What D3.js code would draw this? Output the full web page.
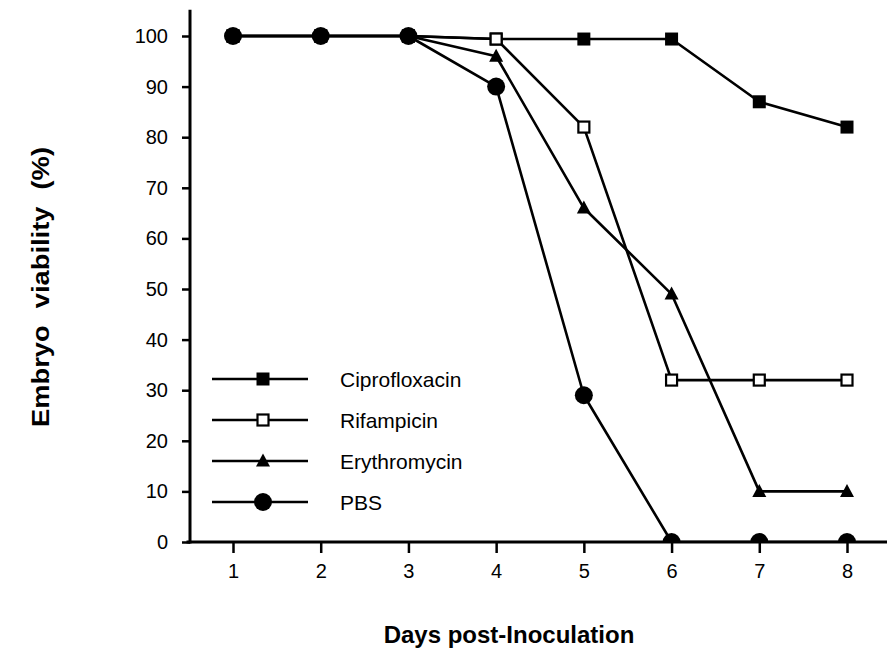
<!DOCTYPE html>
<html>
<head>
<meta charset="utf-8">
<script src="https://cdn.jsdelivr.net/npm/d3@7"></script>
<style>
  html, body { margin: 0; padding: 0; background: #fff; }
  svg { display: block; font-family: "Liberation Sans", Arial, Helvetica, sans-serif; }
</style>
</head>
<body>
<svg id="chart" width="887" height="656"></svg>
<script>
const days = [1, 2, 3, 4, 5, 6, 7, 8];
const ciprofloxacin = [100, 100, 100, 99.4, 99.4, 99.4, 87, 82];
const rifampicin = [100, 100, 100, 99.4, 82, 32, 32, 32];
const erythromycin = [100, 100, 100, 96, 66, 49, 10, 10];
const pbs = [100, 100, 100, 90, 29, 0, 0, 0];
const seriesNames = ["Ciprofloxacin", "Rifampicin", "Erythromycin", "PBS"];
const yTicks = [0, 10, 20, 30, 40, 50, 60, 70, 80, 90, 100];
const xTicks = [1, 2, 3, 4, 5, 6, 7, 8];

const svg = d3.select("#chart");
const x = d3.scaleLinear().domain([1, 8]).range([233, 847]);
const y = d3.scaleLinear().domain([0, 100]).range([542, 36]);

const series = [
  { name: seriesNames[0], values: ciprofloxacin, marker: "fsquare" },
  { name: seriesNames[2], values: erythromycin, marker: "triangle" },
  { name: seriesNames[1], values: rifampicin, marker: "osquare" },
  { name: seriesNames[3], values: pbs, marker: "circle" }
];

svg.append("defs").append("clipPath").attr("id", "plotclip")
  .append("rect").attr("x", x(0.5)).attr("y", 0)
  .attr("width", x(8.5) - x(0.5)).attr("height", y(0) + 1);

function drawMarker(g, type, cx, cy) {
  if (type === "fsquare") {
    g.append("rect").attr("x", cx - 6.5).attr("y", cy - 6.5).attr("width", 13).attr("height", 13).attr("fill", "#000");
  } else if (type === "osquare") {
    g.append("rect").attr("x", cx - 5.5).attr("y", cy - 5.5).attr("width", 11).attr("height", 11)
      .attr("fill", "#fff").attr("stroke", "#000").attr("stroke-width", 2.2);
  } else if (type === "triangle") {
    g.append("path").attr("d", `M${cx},${cy - 7.5}L${cx + 7},${cy + 5.5}L${cx - 7},${cy + 5.5}Z`).attr("fill", "#000");
  } else {
    g.append("circle").attr("cx", cx).attr("cy", cy).attr("r", 9).attr("fill", "#000");
  }
}

const plot = svg.append("g").attr("clip-path", "url(#plotclip)");
const line = d3.line().x((d, i) => x(days[i])).y(d => y(d));

series.forEach(s => {
  plot.append("path").datum(s.values).attr("d", line)
    .attr("fill", "none").attr("stroke", "#000").attr("stroke-width", 2.6).attr("stroke-linejoin", "round");
});
series.forEach(s => {
  const g = plot.append("g");
  s.values.forEach((v, i) => drawMarker(g, s.marker, x(days[i]), y(v)));
});

// Axes
const yAxis = d3.axisLeft(y).tickValues(yTicks).tickFormat(d3.format("d")).tickSize(8).tickPadding(14);
const gy = svg.append("g").attr("transform", `translate(190,0)`).call(yAxis);
gy.select(".domain").remove();
gy.selectAll(".tick line").attr("stroke", "#000").attr("stroke-width", 2.5);
gy.selectAll(".tick text").attr("font-size", 20).attr("fill", "#000").attr("font-family", '"Liberation Sans", Arial, sans-serif');

const xAxis = d3.axisBottom(x).tickValues(xTicks).tickFormat(d3.format("d")).tickSize(11).tickPadding(11);
const gx = svg.append("g").attr("transform", `translate(0,${y(0)})`).call(xAxis);
gx.select(".domain").remove();
gx.selectAll(".tick line").attr("stroke", "#000").attr("stroke-width", 2.5);
gx.selectAll(".tick text").attr("font-size", 20).attr("fill", "#000").attr("font-family", '"Liberation Sans", Arial, sans-serif');

svg.append("line").attr("x1", 190).attr("x2", 190).attr("y1", y(105.2)).attr("y2", y(0) + 1.5)
  .attr("stroke", "#000").attr("stroke-width", 3);
svg.append("line").attr("x1", x(0.47)).attr("x2", x(8.46)).attr("y1", y(0)).attr("y2", y(0))
  .attr("stroke", "#000").attr("stroke-width", 3);

// Legend
const legendOrder = [
  { name: "Ciprofloxacin", marker: "fsquare" },
  { name: "Rifampicin", marker: "osquare" },
  { name: "Erythromycin", marker: "triangle" },
  { name: "PBS", marker: "circle" }
];
legendOrder.forEach((s, i) => {
  const ly = 379 + i * 41;
  const g = svg.append("g");
  g.append("line").attr("x1", 212).attr("x2", 308).attr("y1", ly).attr("y2", ly)
    .attr("stroke", "#000").attr("stroke-width", 2.6);
  drawMarker(g, s.marker, 263, ly);
  g.append("text").attr("x", 340).attr("y", ly).attr("dy", "0.36em")
    .attr("font-size", 21).attr("fill", "#000").text(s.name);
});

// Titles
svg.append("text").attr("x", 509).attr("y", 643).attr("text-anchor", "middle")
  .attr("font-size", 24).attr("font-weight", "bold").attr("fill", "#000").text("Days post-Inoculation");

svg.append("text").attr("transform", "translate(49,287) rotate(-90)").attr("text-anchor", "middle")
  .attr("font-size", 23).attr("font-weight", "bold").attr("fill", "#000")
  .attr("word-spacing", 8)
  .attr("textLength", 280).attr("lengthAdjust", "spacingAndGlyphs")
  .text("Embryo viability (%)");
</script>
</body>
</html>
